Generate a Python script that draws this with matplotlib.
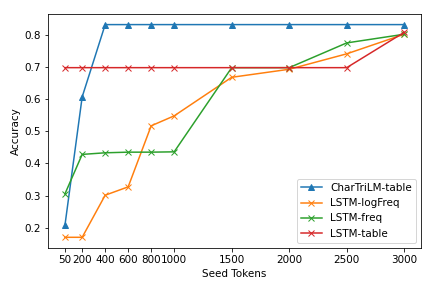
import numpy as np
import matplotlib
matplotlib.use("Agg")
import matplotlib.pyplot as plt

# Seed-Tokens und Genauigkeiten
seed_tokens = [50, 200, 400, 600, 800, 1000, 1500, 2000, 2500, 3000]

chartrilm_table = [0.207, 0.607, 0.832, 0.832, 0.832, 0.832, 0.832, 0.832, 0.832, 0.832]
lstm_logfreq = [0.17, 0.17, 0.301, 0.327, 0.517, 0.548, 0.668, 0.693, 0.741, 0.802]
lstm_freq = [0.305, 0.428, 0.433, 0.435, 0.435, 0.436, 0.698, 0.698, 0.775, 0.802]
lstm_table = [0.698, 0.698, 0.698, 0.698, 0.698, 0.698, 0.698, 0.698, 0.698, 0.808]

plt.rcParams["font.size"] = 10.4

# 72 dpi, damit Schrift und Linien wie im Original skaliert sind
fig = plt.figure(figsize=(436 / 72, 291 / 72), dpi=72)
ax = fig.add_axes([0.110, 0.148, 0.856, 0.804])

ax.plot(seed_tokens, chartrilm_table, marker="^", label="CharTriLM-table")
ax.plot(seed_tokens, lstm_logfreq, marker="x", label="LSTM-logFreq")
ax.plot(seed_tokens, lstm_freq, marker="x", label="LSTM-freq")
ax.plot(seed_tokens, lstm_table, marker="x", label="LSTM-table")

ax.set_xticks(seed_tokens)
ax.set_xticklabels([str(s) for s in seed_tokens])
ax.set_xlabel("Seed Tokens")
ax.set_ylabel("Accuracy")
ax.legend(loc="lower right")

fig.savefig("out.png", dpi=72)
